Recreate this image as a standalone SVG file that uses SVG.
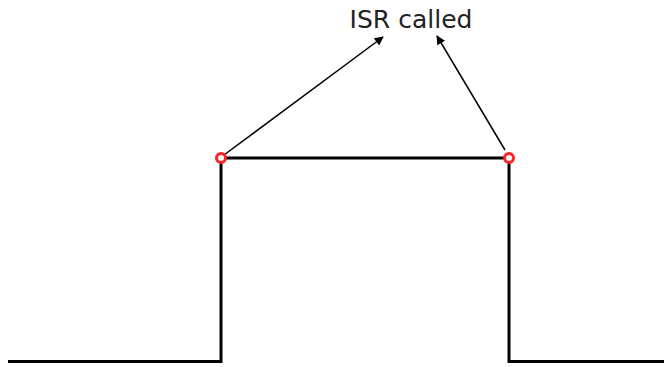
<svg xmlns="http://www.w3.org/2000/svg" width="664" height="367" viewBox="0 0 664 367">
<style>
.sig{fill:none;stroke:#000;stroke-width:3;stroke-linejoin:miter}
.arr{fill:none;stroke:#000;stroke-width:1.5;marker-end:url(#ah)}
.pt{fill:#fff;stroke:#f22;stroke-width:3}
.lbl{font-family:"DejaVu Sans",sans-serif;font-size:25px;fill:#222}
</style>
<defs>
<marker id="ah" viewBox="0 0 10 10" refX="9" refY="5" markerWidth="10" markerHeight="9" markerUnits="userSpaceOnUse" orient="auto">
<path d="M0,0 L10,5 L0,10 z" fill="#000"/>
</marker>
</defs>
<rect width="664" height="367" fill="#fff"/>
<g id="signal">
<path class="sig" d="M8,361.5 H221 V158 H509 V361.5 H664"/>
</g>
<g id="label">
<text class="lbl" x="411" y="28" text-anchor="middle">ISR called</text>
</g>
<g id="connectors">
<line class="arr" x1="224" y1="155" x2="383" y2="37"/>
<line class="arr" x1="505" y1="150" x2="437" y2="36"/>
</g>
<g id="point-left"><circle class="pt" cx="221" cy="158" r="4.5"/></g>
<g id="point-right"><circle class="pt" cx="509" cy="158" r="4.5"/></g>
</svg>
